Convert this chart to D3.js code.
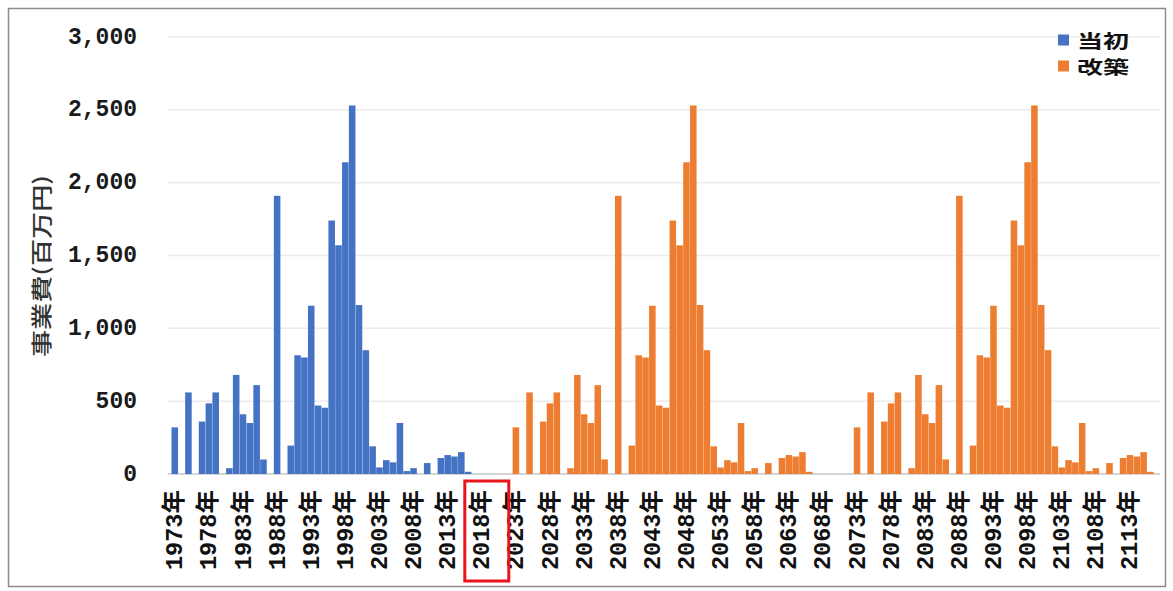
<!DOCTYPE html>
<html>
<head>
<meta charset="utf-8">
<script src="https://cdn.jsdelivr.net/npm/d3@7"></script>
<style>
  body { margin: 0; background: #fff; }
  svg { display: block; }
</style>
</head>
<body>
<svg id="chart" width="1173" height="591"></svg>
<script>
// Annual project cost (million yen): original construction and 50-year reconstruction cycle
const firstYear = 1973;
const lastYear = 2117;

const originalStart = 1973;
const originalCost = [
  320, 0, 560, 0, 360, 485, 560, 0, 40, 680,
  410, 350, 610, 100, 0, 1910, 0, 195, 815, 800,
  1155, 470, 455, 1740, 1570, 2140, 2530, 1160, 850, 190,
  45, 95, 80, 350, 20, 40, 0, 75, 0, 110,
  130, 120, 150, 15, 0
];

const rebuildStart = 2018;
const rebuildCost = [
  0, 0, 0, 0, 0,
  320, 0, 560, 0, 360, 485, 560, 0, 40, 680,
  410, 350, 610, 100, 0, 1910, 0, 195, 815, 800,
  1155, 470, 455, 1740, 1570, 2140, 2530, 1160, 850, 190,
  45, 95, 80, 350, 20, 40, 0, 75, 0, 110,
  130, 120, 150, 15, 0,
  0, 0, 0, 0, 0,
  320, 0, 560, 0, 360, 485, 560, 0, 40, 680,
  410, 350, 610, 100, 0, 1910, 0, 195, 815, 800,
  1155, 470, 455, 1740, 1570, 2140, 2530, 1160, 850, 190,
  45, 95, 80, 350, 20, 40, 0, 75, 0, 110,
  130, 120, 150, 15, 0
];

const yTicks = [0, 500, 1000, 1500, 2000, 2500, 3000];
const labelYears = [1973, 1978, 1983, 1988, 1993, 1998, 2003, 2008, 2013, 2018,
  2023, 2028, 2033, 2038, 2043, 2048, 2053, 2058, 2063, 2068,
  2073, 2078, 2083, 2088, 2093, 2098, 2103, 2108, 2113];
const highlightYear = 2018;

const seriesNames = ["当初", "改築"];
const seriesColors = ["#4472C4", "#ED7D31"];
const yTitle = "事業費(百万円)";

const svg = d3.select("#chart");

// outer frame
svg.append("rect")
  .attr("x", 8.5).attr("y", 8.5)
  .attr("width", 1157).attr("height", 578)
  .attr("fill", "none").attr("stroke", "#8c8c8c").attr("stroke-width", 1.5);

const years = d3.range(firstYear, lastYear + 1);
const x = d3.scaleBand().domain(years).range([171.5, 1160.5]).paddingInner(0.04);
const y = d3.scaleLinear().domain([0, 3000]).range([474, 37]);

// horizontal gridlines
svg.append("g").selectAll("line")
  .data(yTicks)
  .join("line")
  .attr("x1", 168).attr("x2", 1160)
  .attr("y1", d => y(d)).attr("y2", d => y(d))
  .attr("stroke", d => d === 0 ? "#c9c9c9" : "#ebebeb")
  .attr("stroke-width", 1.5);

// y tick labels
svg.append("g").selectAll("text")
  .data(yTicks)
  .join("text")
  .attr("x", 137)
  .attr("y", d => y(d))
  .attr("text-anchor", "end")
  .attr("dominant-baseline", "central")
  .attr("font-family", "'Liberation Mono', 'DejaVu Sans Mono', monospace")
  .attr("font-weight", "bold")
  .attr("font-size", 24)
  .attr("fill", "#1a1a1a")
  .each(function (d) {
    const s = d3.format(",")(d);
    d3.select(this).text(s)
      .attr("textLength", s.length * 13.8)
      .attr("lengthAdjust", "spacingAndGlyphs");
  });

// y axis title
svg.append("text")
  .attr("transform", "translate(40,266) rotate(-90)")
  .attr("text-anchor", "middle")
  .attr("dominant-baseline", "central")
  .attr("font-family", "'Noto Sans CJK JP', sans-serif")
  .attr("font-weight", 500)
  .attr("font-size", 21)
  .attr("fill", "#333")
  .attr("textLength", 182)
  .attr("lengthAdjust", "spacingAndGlyphs")
  .text(yTitle);

// bars
const series = [
  { start: originalStart, values: originalCost, color: seriesColors[0] },
  { start: rebuildStart, values: rebuildCost, color: seriesColors[1] }
];
series.forEach(s => {
  const rows = s.values.map((v, i) => ({ year: s.start + i, value: v })).filter(r => r.value > 0);
  svg.append("g").selectAll("rect")
    .data(rows)
    .join("rect")
    .attr("x", d => x(d.year))
    .attr("width", x.bandwidth())
    .attr("y", d => y(d.value))
    .attr("height", d => y(0) - y(d.value))
    .attr("fill", s.color);
});

// x tick labels
const bw = x.bandwidth();
svg.append("g").selectAll("text")
  .data(labelYears)
  .join("text")
  .attr("transform", d => `translate(${x(d) + bw / 2 + 1},490) rotate(-90)`)
  .attr("text-anchor", "end")
  .attr("dominant-baseline", "central")
  .attr("font-family", "'Liberation Mono', 'Noto Sans CJK JP', monospace")
  .attr("font-weight", "bold")
  .attr("font-size", 24)
  .attr("fill", "#111")
  .attr("textLength", 80)
  .attr("lengthAdjust", "spacingAndGlyphs")
  .text(d => d + "年");

// highlight box around the current year label
svg.append("rect")
  .attr("x", x(highlightYear) + bw / 2 - 17)
  .attr("y", 481)
  .attr("width", 44)
  .attr("height", 100)
  .attr("fill", "none")
  .attr("stroke", "#e8141b")
  .attr("stroke-width", 3);

// legend
const legend = svg.append("g");
seriesNames.forEach((name, i) => {
  const cy = 40 + i * 26;
  legend.append("rect")
    .attr("x", 1058).attr("y", cy - 5.5)
    .attr("width", 11).attr("height", 11)
    .attr("fill", seriesColors[i]);
  legend.append("text")
    .attr("x", 1077).attr("y", cy)
    .attr("dominant-baseline", "central")
    .attr("font-family", "'Noto Sans CJK JP', sans-serif")
    .attr("font-weight", "bold")
    .attr("font-size", 18)
    .attr("fill", "#111")
    .attr("textLength", 52)
    .attr("lengthAdjust", "spacingAndGlyphs")
    .text(name);
});
</script>
</body>
</html>
